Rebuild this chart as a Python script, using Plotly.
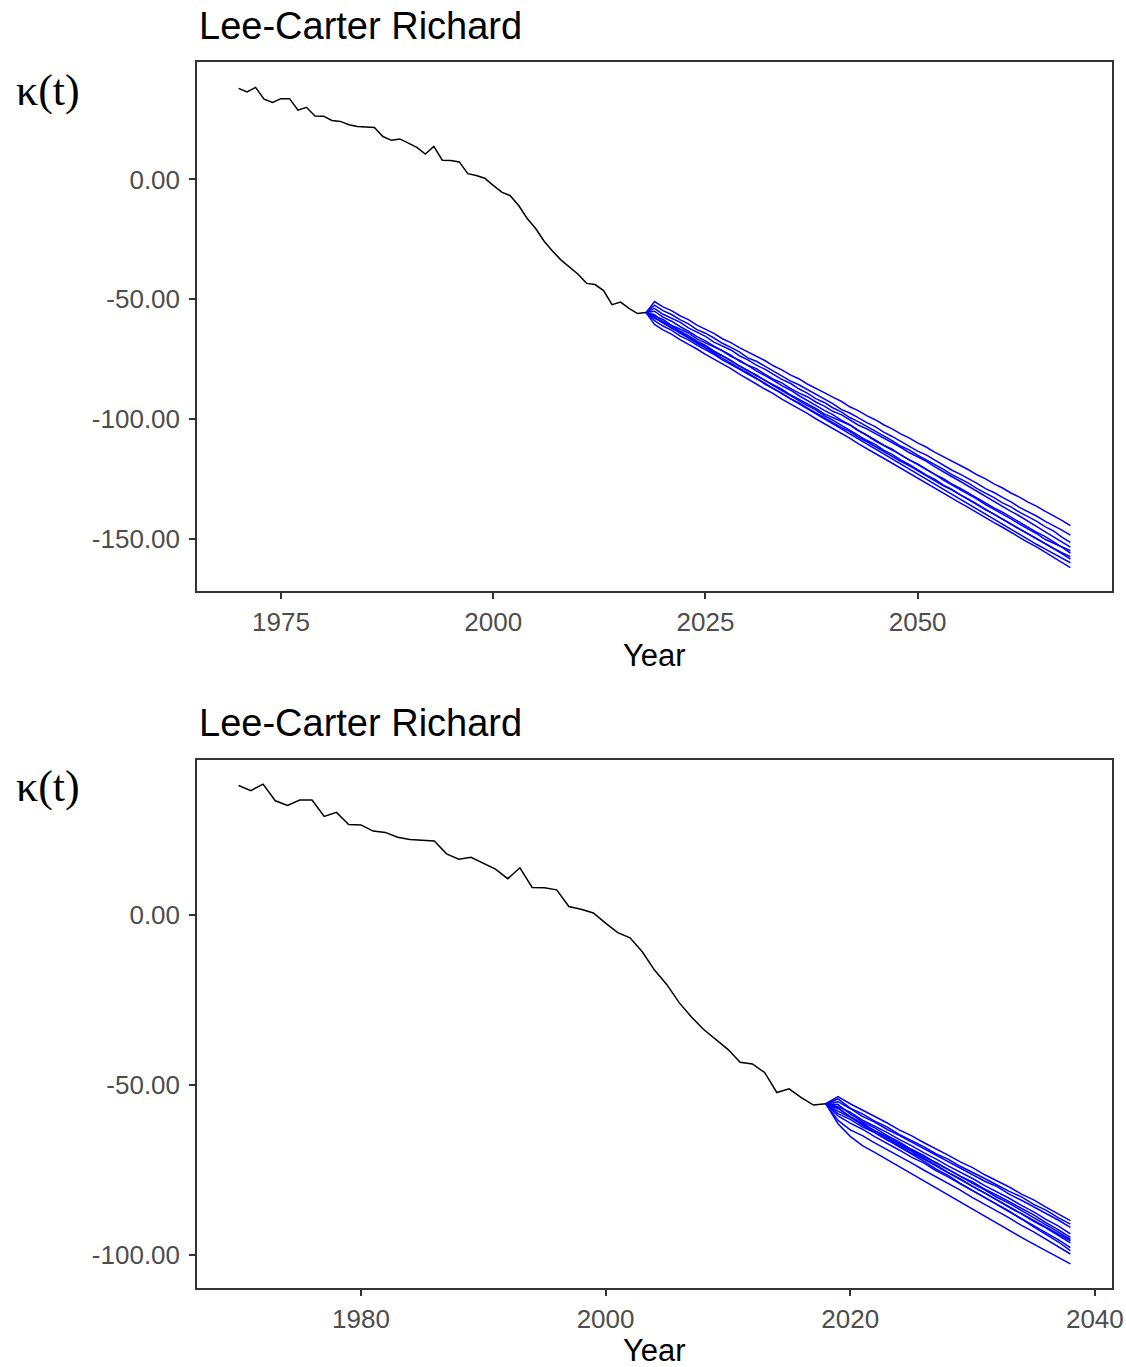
import plotly.graph_objects as go

# ---------------- data ----------------
hist_years = list(range(1970, 2019))
kappa_hist = [38.0, 36.5, 38.4, 33.5, 32.1, 33.7, 33.7, 28.9, 30.1, 26.5,
              26.4, 24.6, 24.2, 22.8, 22.1, 21.8, 21.7, 17.9, 16.3, 16.9,
              15.1, 13.4, 10.6, 13.8, 8.0, 7.9, 7.3, 2.4, 1.6, 0.5,
              -2.5, -5.3, -6.8, -10.9, -16.3, -20.5, -25.8, -30.0, -33.7, -36.6,
              -39.6, -43.4, -43.9, -46.4, -52.3, -51.2, -53.8, -56.0, -55.6]

# long horizon simulations (2018-2068)
long_years = list(range(2018, 2069))
long_sim_1 = [-55.6, -51.0, -53.2, -54.8, -56.9, -58.5, -60.8, -62.6, -64.3, -66.5, -68.1, -70.2,
              -71.9, -73.9, -75.6, -77.8, -79.5, -81.6, -83.2, -85.4, -87.1, -89.0,
              -90.9, -92.6, -94.9, -96.5, -98.6, -100.3, -102.4, -104.1, -106.2, -107.9,
              -110.0, -111.7, -113.8, -115.6, -117.5, -119.4, -121.2, -123.3, -125.0, -127.1,
              -128.8, -130.9, -132.6, -134.7, -136.4, -138.5, -140.3, -142.3, -144.5]
long_sim_2 = [-55.6, -52.5, -54.8, -56.4, -58.5, -60.3, -62.7, -64.2, -66.2, -68.4, -70.1, -72.0,
              -74.5, -75.9, -77.9, -80.0, -81.8, -84.1, -85.7, -87.6, -89.8, -91.6,
              -93.6, -96.0, -97.5, -99.4, -101.5, -103.2, -105.5, -107.3, -109.3, -111.2,
              -113.4, -115.0, -117.1, -118.9, -121.3, -123.0, -124.9, -126.9, -129.1, -130.7,
              -132.7, -134.6, -136.9, -138.6, -140.5, -142.6, -144.4, -146.4, -148.5]
long_sim_3 = [-55.6, -53.8, -56.3, -57.9, -59.6, -62.0, -63.7, -65.5, -67.9, -69.6, -71.2, -73.6,
              -75.3, -77.5, -79.2, -81.4, -83.5, -85.1, -87.4, -89.2, -91.5, -93.1,
              -95.3, -97.0, -99.4, -101.1, -103.0, -105.2, -107.1, -109.0, -111.3, -112.9,
              -115.1, -117.0, -119.2, -120.9, -123.1, -125.0, -126.8, -129.1, -130.9, -132.8,
              -135.0, -136.7, -138.9, -140.8, -142.6, -144.9, -146.7, -149.3, -151.5]
long_sim_4 = [-55.6, -57.0, -58.4, -60.9, -62.5, -64.1, -66.6, -68.2, -70.0, -71.6, -73.9, -75.5,
              -77.6, -79.0, -81.3, -83.4, -84.9, -87.2, -89.1, -90.7, -92.9, -94.6,
              -96.8, -98.2, -100.4, -102.5, -104.1, -106.0, -108.2, -110.1, -111.8, -114.0,
              -115.7, -117.6, -119.9, -121.8, -124.0, -126.0, -128.1, -130.4, -132.2, -134.5,
              -136.4, -138.6, -140.5, -142.8, -144.8, -147.0, -149.1, -151.3, -153.5]
long_sim_5 = [-55.6, -55.0, -57.5, -59.2, -61.4, -63.3, -65.6, -67.4, -69.6, -71.5, -73.4, -75.8,
              -77.6, -79.9, -81.8, -83.9, -86.1, -87.9, -90.2, -92.1, -94.3, -96.4,
              -98.2, -100.5, -102.4, -104.7, -106.6, -108.7, -110.9, -112.6, -115.0, -117.0,
              -119.1, -121.2, -123.0, -125.4, -127.3, -129.5, -131.5, -133.4, -135.7, -137.6,
              -139.8, -141.7, -143.9, -145.9, -147.8, -150.2, -151.9, -153.5, -155.0]
long_sim_6 = [-55.6, -58.0, -59.7, -62.1, -63.8, -66.0, -67.9, -69.8, -72.1, -73.7, -75.9, -77.8,
              -79.9, -81.6, -83.9, -85.8, -87.6, -89.9, -91.7, -93.8, -95.6, -97.9,
              -99.5, -100.9, -102.5, -104.9, -106.8, -109.1, -110.9, -113.0, -114.9, -117.1,
              -118.8, -121.0, -123.1, -124.8, -127.1, -128.9, -131.0, -133.0, -134.9, -137.1,
              -138.9, -141.0, -143.1, -144.9, -147.2, -149.0, -151.2, -153.5, -156.0]
long_sim_7 = [-55.6, -56.5, -59.3, -61.0, -63.4, -65.2, -67.5, -69.3, -71.6, -73.6, -75.5, -77.9,
              -79.7, -82.0, -83.8, -86.1, -88.2, -90.0, -92.4, -94.3, -96.2, -98.6,
              -100.5, -102.6, -104.4, -106.7, -108.9, -110.6, -113.0, -114.8, -117.1, -119.0,
              -121.2, -123.3, -125.1, -127.5, -129.3, -131.6, -133.5, -135.6, -137.8, -139.6,
              -141.9, -143.8, -146.0, -147.9, -150.0, -152.1, -153.9, -155.8, -157.5]
long_sim_8 = [-55.6, -59.0, -61.2, -62.9, -65.3, -67.0, -69.2, -71.1, -73.0, -75.3, -77.1, -79.2,
              -81.3, -83.1, -85.4, -87.3, -89.2, -91.5, -93.2, -95.4, -97.5, -99.3,
              -101.4, -103.5, -105.2, -107.6, -109.4, -111.5, -113.5, -115.4, -117.7, -119.5,
              -121.6, -123.6, -125.5, -127.8, -129.6, -131.8, -133.7, -135.7, -137.9, -139.7,
              -141.9, -143.8, -145.9, -147.9, -149.8, -152.0, -154.1, -156.2, -158.5]
long_sim_9 = [-55.6, -57.5, -60.0, -61.8, -64.2, -66.1, -68.4, -70.3, -72.6, -74.5, -76.7, -78.9,
              -80.8, -83.1, -85.0, -87.3, -89.4, -91.4, -93.6, -95.7, -97.6, -99.9,
              -102.0, -104.0, -106.3, -108.1, -110.4, -112.5, -114.5, -116.8, -118.7, -121.0,
              -123.0, -125.1, -127.3, -129.2, -131.5, -133.5, -135.6, -137.8, -139.7, -142.0,
              -144.0, -146.1, -148.2, -150.2, -152.3, -154.2, -156.1, -158.1, -160.0]
long_sim_10 = [-55.6, -60.5, -62.8, -64.6, -66.9, -68.7, -70.8, -73.0, -74.9, -77.1, -79.0, -81.3,
               -83.2, -85.4, -87.5, -89.4, -91.7, -93.6, -95.8, -97.7, -99.9, -101.9,
               -104.0, -106.1, -108.0, -110.3, -112.2, -114.4, -116.4, -118.5, -120.6, -122.5,
               -124.8, -126.7, -128.9, -130.8, -133.0, -135.0, -137.0, -139.2, -141.1, -143.3,
               -145.2, -147.4, -149.3, -151.5, -153.4, -155.6, -157.6, -159.7, -162.0]
long_sims = [long_sim_1, long_sim_2, long_sim_3, long_sim_4, long_sim_5,
             long_sim_6, long_sim_7, long_sim_8, long_sim_9, long_sim_10]

# short horizon simulations (2018-2038)
short_years = list(range(2018, 2039))
short_sim_1 = [-55.6, -53.5, -55.6, -57.4, -59.4, -61.2, -63.3, -65.0, -67.0, -68.8, -70.7,
               -72.7, -74.4, -76.5, -78.3, -80.1, -82.2, -83.9, -86.0, -87.9, -90.0]
short_sim_2 = [-55.6, -54.2, -56.9, -58.6, -60.7, -62.4, -64.6, -66.3, -68.2, -70.3, -71.9,
               -74.0, -75.7, -77.6, -79.5, -81.4, -83.0, -85.2, -86.9, -89.1, -91.0]
short_sim_3 = [-55.6, -55.0, -57.0, -59.3, -61.0, -63.1, -64.9, -66.8, -68.9, -70.6, -72.6,
               -74.5, -76.3, -78.4, -80.0, -82.2, -84.0, -85.9, -87.9, -89.8, -92.0]
short_sim_4 = [-55.6, -56.5, -58.1, -60.4, -62.2, -64.0, -66.1, -67.9, -70.0, -71.8, -73.9,
               -75.7, -77.6, -79.7, -81.5, -83.4, -85.5, -87.4, -89.6, -91.5, -93.9]
short_sim_5 = [-55.6, -57.8, -59.6, -61.3, -63.6, -65.2, -67.3, -69.1, -71.2, -72.9, -74.9,
               -76.9, -78.6, -80.7, -82.5, -84.4, -86.5, -88.3, -90.6, -92.6, -94.9]
short_sim_6 = [-55.6, -55.8, -58.6, -60.9, -62.7, -64.9, -66.8, -69.0, -70.8, -73.0, -74.9,
               -77.0, -79.0, -80.9, -83.1, -84.9, -87.0, -89.1, -91.0, -93.3, -95.5]
short_sim_7 = [-55.6, -58.5, -60.2, -62.4, -64.1, -66.2, -68.0, -70.1, -71.9, -73.9, -75.9,
               -77.8, -79.9, -81.7, -83.8, -85.7, -87.7, -89.8, -91.7, -93.9, -95.9]
short_sim_8 = [-55.6, -57.0, -59.3, -61.6, -63.5, -65.6, -67.7, -69.5, -71.7, -73.6, -75.8,
               -77.7, -79.9, -81.8, -84.0, -86.1, -88.0, -90.2, -92.1, -94.3, -96.5]
short_sim_9 = [-55.6, -59.2, -61.3, -63.1, -65.3, -67.2, -69.2, -71.3, -73.0, -75.3, -77.1,
               -79.2, -81.2, -83.1, -85.3, -87.2, -89.4, -91.4, -93.5, -95.6, -97.9]
short_sim_10 = [-55.6, -56.8, -59.5, -61.9, -64.0, -66.1, -68.4, -70.5, -72.5, -74.8, -76.7,
                -79.0, -81.1, -83.1, -85.4, -87.5, -89.5, -91.8, -94.0, -96.2, -98.8]
short_sim_11 = [-55.6, -60.5, -63.3, -65.0, -67.1, -69.0, -71.0, -73.0, -75.1, -77.0, -79.1,
                -81.0, -83.2, -85.1, -87.2, -89.2, -91.4, -93.3, -95.5, -97.5, -99.8]
short_sim_12 = [-55.6, -61.5, -65.2, -67.9, -69.9, -72.0, -74.1, -76.0, -78.3, -80.2, -82.4,
                -84.4, -86.6, -88.7, -90.7, -92.9, -94.9, -96.9, -98.8, -100.6, -102.7]
short_sims = [short_sim_1, short_sim_2, short_sim_3, short_sim_4, short_sim_5, short_sim_6,
              short_sim_7, short_sim_8, short_sim_9, short_sim_10, short_sim_11, short_sim_12]

top_xticks = [1975, 2000, 2025, 2050]
top_yticks = [0, -50, -100, -150]
bot_xticks = [1980, 2000, 2020, 2040]
bot_yticks = [0, -50, -100]

title_text = "Lee-Carter Richard"
ylab_text = "κ(t)"
xlab_text = "Year"

# ---------------- figure ----------------
W, H = 1126, 1367
ML, MR, MT, MB = 197, 14, 62, 79
PW = W - ML - MR
PH = H - MT - MB


def py(pix):
    return (H - MB - pix) / PH


def px(pix):
    return (pix - ML) / PW


def fmt(vals):
    return ["%.2f" % v for v in vals]


fig = go.Figure()

SIM_COLOR = "#0000FF"
for sim in long_sims:
    fig.add_trace(go.Scatter(x=long_years, y=sim, mode="lines",
                             line=dict(color=SIM_COLOR, width=1.5),
                             xaxis="x", yaxis="y", showlegend=False, hoverinfo="skip"))
fig.add_trace(go.Scatter(x=hist_years, y=kappa_hist, mode="lines",
                         line=dict(color="black", width=1.5),
                         xaxis="x", yaxis="y", showlegend=False))

for sim in short_sims:
    fig.add_trace(go.Scatter(x=short_years, y=sim, mode="lines",
                             line=dict(color=SIM_COLOR, width=1.5),
                             xaxis="x2", yaxis="y2", showlegend=False, hoverinfo="skip"))
fig.add_trace(go.Scatter(x=hist_years, y=kappa_hist, mode="lines",
                         line=dict(color="black", width=1.5),
                         xaxis="x2", yaxis="y2", showlegend=False))

axis_common = dict(showgrid=False, zeroline=False, showline=True, mirror=True,
                   automargin=False,
                   linecolor="#333333", linewidth=1.5, ticks="outside", ticklen=6,
                   tickwidth=1.5, tickcolor="#333333",
                   tickfont=dict(family="Liberation Sans, Arial, sans-serif", size=26,
                                 color="#4D4D4D"))

top_dom = [py(591), 1.0]
bot_dom = [0.0, py(760)]

fig.update_layout(
    width=W, height=H,
    margin=dict(l=ML, r=MR, t=MT, b=MB, autoexpand=False),
    paper_bgcolor="white", plot_bgcolor="white",
    xaxis=dict(domain=[0, 1], anchor="y", range=[1965.1, 2072.9],
               tickvals=top_xticks, ticktext=[str(v) for v in top_xticks],
               ticklabelstandoff=1, **axis_common),
    yaxis=dict(domain=top_dom, anchor="x", range=[-171.8, 49.0],
               tickvals=top_yticks, ticktext=fmt(top_yticks), ticklabelstandoff=4,
               **axis_common),
    xaxis2=dict(domain=[0, 1], anchor="y2", range=[1966.6, 2041.4],
                tickvals=bot_xticks, ticktext=[str(v) for v in bot_xticks],
                ticklabelstandoff=1, **axis_common),
    yaxis2=dict(domain=bot_dom, anchor="x2", range=[-109.8, 45.5],
                tickvals=bot_yticks, ticktext=fmt(bot_yticks), ticklabelstandoff=4,
                **axis_common),
)

ann = []
for ty, ky, xy in [(26, 90, 655), (723, 786, 1350)]:
    ann.append(dict(text=title_text, xref="paper", yref="paper", x=0, y=py(ty),
                    xanchor="left", yanchor="middle", showarrow=False,
                    font=dict(family="Liberation Sans, Arial, sans-serif", size=38,
                              color="black")))
    ann.append(dict(text=ylab_text, xref="paper", yref="paper", x=px(48), y=py(ky),
                    xanchor="center", yanchor="middle", showarrow=False,
                    font=dict(family="Liberation Serif, Times New Roman, serif", size=44,
                              color="black")))
    ann.append(dict(text=xlab_text, xref="paper", yref="paper", x=0.5, y=py(xy),
                    xanchor="center", yanchor="middle", showarrow=False,
                    font=dict(family="Liberation Sans, Arial, sans-serif", size=31,
                              color="black")))
fig.update_layout(annotations=ann)

fig.write_html("out.html")
